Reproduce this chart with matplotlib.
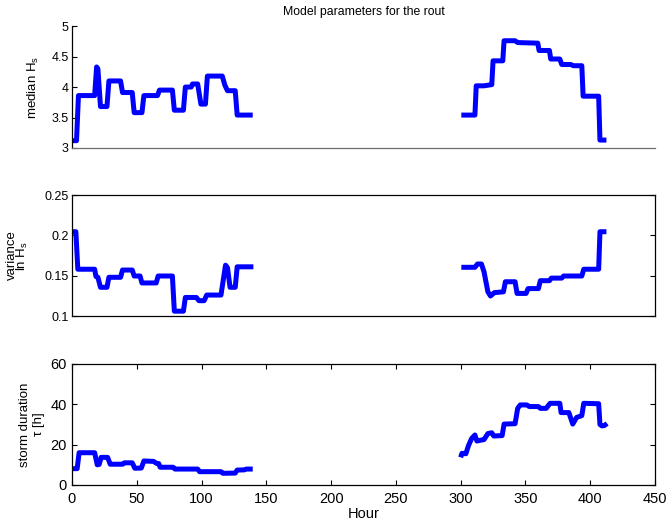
import numpy as np
import matplotlib
matplotlib.use("Agg")
import matplotlib.pyplot as plt

plt.rcParams['font.family'] = ['Liberation Sans', 'DejaVu Sans']
plt.rcParams['mathtext.fontset'] = 'custom'
plt.rcParams['mathtext.rm'] = 'Liberation Sans'
plt.rcParams['mathtext.it'] = 'Liberation Sans:italic'

# ---- median Hs -------------------------------------------------------------
med_hour_a = [0.5, 3.5, 5, 17.5, 19, 20, 22, 27, 28.5, 37.5, 39, 46.5, 48, 54,
              55.5, 66, 67.5, 77.5, 79, 86, 87.5, 92, 93, 97, 99.5, 103, 104.5,
              116, 118, 120, 126, 127.5, 139.5]
med_val_a = [3.12, 3.12, 3.86, 3.86, 4.33, 4.30, 3.68, 3.68, 4.10, 4.10, 3.91,
             3.91, 3.58, 3.58, 3.86, 3.86, 3.95, 3.95, 3.62, 3.62, 4.00, 4.00,
             4.05, 4.05, 3.72, 3.72, 4.18, 4.18, 4.03, 3.94, 3.94, 3.54, 3.54]
med_hour_b = [300.5, 311, 312, 318, 324, 325, 332.5, 333.5, 342, 344, 359.5,
              360.5, 368.5, 369.5, 376.5, 378, 385, 387, 393.5, 394.5, 406.5,
              407.5, 412.5]
med_val_b = [3.54, 3.54, 4.02, 4.02, 4.04, 4.43, 4.43, 4.76, 4.76, 4.73, 4.72,
             4.60, 4.60, 4.46, 4.46, 4.37, 4.37, 4.35, 4.35, 3.85, 3.85, 3.13,
             3.13]

# ---- variance of ln Hs -----------------------------------------------------
var_hour_a = [0.5, 3, 4.5, 17.5, 18.5, 20, 22, 27, 28.5, 37.5, 39, 46.5, 48,
              52.5, 54, 65, 66.5, 77.5, 79, 86, 87.5, 96, 98, 102, 104, 115,
              118.5, 120, 122, 126, 127.5, 140]
var_val_a = [0.2045, 0.2045, 0.158, 0.158, 0.149, 0.148, 0.1356, 0.1356, 0.148,
             0.148, 0.157, 0.157, 0.1496, 0.1496, 0.141, 0.141, 0.1496, 0.1496,
             0.106, 0.106, 0.123, 0.123, 0.119, 0.119, 0.126, 0.126, 0.163,
             0.160, 0.1356, 0.1356, 0.161, 0.161]
var_hour_b = [300.5, 311, 313, 316, 318, 321, 323, 326, 333, 334.5, 342, 343.5,
              350.5, 352, 360, 361.5, 368.5, 370, 378, 379.5, 393.5, 395, 406.5,
              407.5, 412.5]
var_val_b = [0.1604, 0.1604, 0.1645, 0.1645, 0.155, 0.130, 0.1248, 0.129, 0.130,
             0.1425, 0.1425, 0.128, 0.128, 0.134, 0.134, 0.1438, 0.1438, 0.147,
             0.147, 0.1496, 0.1496, 0.158, 0.158, 0.2045, 0.2045]

# ---- storm duration tau [h] ------------------------------------------------
dur_hour_a = [0.5, 4, 5.5, 17.5, 19.5, 21, 22.5, 27.5, 29.5, 39, 40.5, 46.5,
              48.5, 53.5, 55.5, 63, 65, 67, 68, 78, 79.5, 97, 98.5, 115, 116.5,
              126, 127.5, 133, 134.5, 139.5]
dur_val_a = [8.1, 8.1, 16.0, 16.0, 10.0, 10.2, 13.7, 13.7, 10.3, 10.3, 11.0,
             11.0, 8.3, 8.4, 11.9, 11.7, 10.8, 10.6, 8.8, 8.8, 7.9, 7.9, 6.6,
             6.6, 5.8, 5.9, 7.4, 7.5, 7.9, 7.9]
dur_hour_b = [300, 301, 304, 306, 308.5, 311, 312.5, 316, 318, 321, 324, 325.5,
              332, 333.5, 342, 344, 346, 351, 353, 360, 361.5, 366, 369, 376.5,
              377.5, 383.5, 386.5, 389.5, 393.5, 395, 406.5, 407.5, 409, 411,
              413]
dur_val_b = [13.7, 15.7, 15.5, 19.5, 23.1, 24.8, 21.8, 22.3, 22.5, 25.5, 25.9,
             24.3, 24.5, 30.2, 30.4, 38.0, 39.7, 39.7, 38.9, 38.9, 38.0, 38.0,
             40.5, 40.5, 35.9, 35.9, 30.2, 33.5, 34.4, 40.5, 40.3, 30.0, 29.3,
             29.5, 30.5]

x_ticks = list(range(0, 451, 50))
med_ticks = [3, 3.5, 4, 4.5, 5]
med_ticklabels = ['3', '3.5', '4', '4.5', '5']
var_ticks = [0.1, 0.15, 0.2, 0.25]
var_ticklabels = ['0.1', '0.15', '0.2', '0.25']
dur_ticks = [0, 20, 40, 60]

LINE = dict(color='#0000ff', lw=3.6, solid_joinstyle='round',
            solid_capstyle='butt')

fig = plt.figure(figsize=(6.69, 5.22), dpi=100)
left, width = 0.1076, 0.8715
ax1 = fig.add_axes([left, 0.7165, width, 0.2335])
ax2 = fig.add_axes([left, 0.3946, width, 0.2318])
ax3 = fig.add_axes([left, 0.0709, width, 0.2318])

for ax in (ax1, ax2, ax3):
    ax.set_xlim(0, 450)
    for s in ax.spines.values():
        s.set_linewidth(0.9)
    ax.tick_params(direction='in', length=3.5, width=0.8, labelsize=9,
                   pad=2.5)

# top panel: only left axis and a grey baseline
ax1.plot(med_hour_a, med_val_a, **LINE)
ax1.plot(med_hour_b, med_val_b, **LINE)
ax1.set_ylim(3, 5)
ax1.set_yticks(med_ticks)
ax1.set_yticklabels(med_ticklabels)
ax1.set_xticks([])
ax1.spines['top'].set_visible(False)
ax1.spines['right'].set_visible(False)
ax1.spines['bottom'].set_color('#6e6e6e')
ax1.set_ylabel('median H$_\\mathregular{s}$', fontsize=9.5)
ax1.yaxis.set_label_coords(-0.054, 0.5)
ax1.set_title('Model parameters for the rout', fontsize=8.8, pad=8)

# middle panel
ax2.plot(var_hour_a, var_val_a, **LINE)
ax2.plot(var_hour_b, var_val_b, **LINE)
ax2.set_ylim(0.1, 0.25)
ax2.set_yticks(var_ticks)
ax2.set_yticklabels(var_ticklabels)
ax2.set_xticks([])
ax2.tick_params(axis='y', right=True)
ax2.set_ylabel('variance\nln H$_\\mathregular{s}$', fontsize=9.5,
               linespacing=0.7)
ax2.yaxis.set_label_coords(-0.072, 0.5)

# bottom panel
ax3.plot(dur_hour_a, dur_val_a, **LINE)
ax3.plot(dur_hour_b, dur_val_b, **LINE)
ax3.set_ylim(0, 60)
ax3.set_yticks(dur_ticks)
ax3.set_xticks(x_ticks)
ax3.tick_params(top=True, right=True, labelsize=10.5)
ax3.tick_params(axis='x', pad=5)
ax3.tick_params(axis='y', pad=3.5)
ax3.set_xlabel('Hour', fontsize=10.5, labelpad=1)
ax3.set_ylabel('storm duration\n\u03c4 [h]', fontsize=9.5, linespacing=1.15)
ax3.yaxis.set_label_coords(-0.047, 0.5)

fig.savefig('out.png', dpi=100)
